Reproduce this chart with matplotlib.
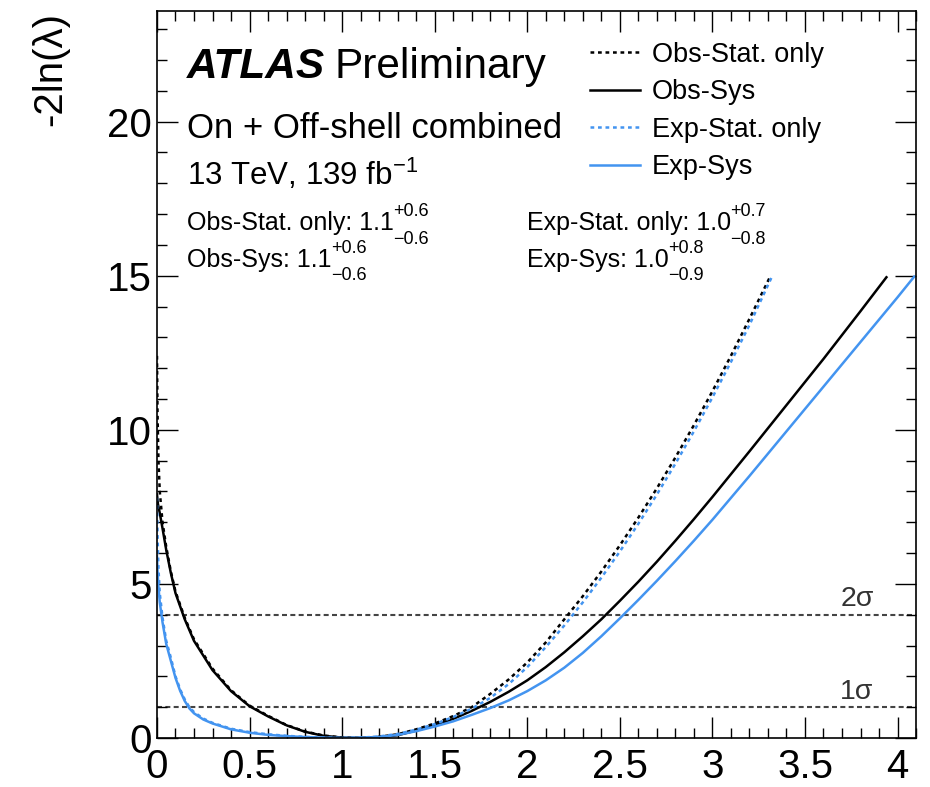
import matplotlib
matplotlib.use("Agg")
import matplotlib.pyplot as plt
from matplotlib.ticker import MultipleLocator, FuncFormatter

# values
obs_stat_x = [0, 0.003, 0.008, 0.015, 0.03, 0.05, 0.075, 0.1, 0.15, 0.2, 0.3, 0.4, 0.5, 0.6, 0.7,
              0.8, 0.9, 1.0, 1.1, 1.2, 1.3, 1.4, 1.5, 1.6, 1.7, 1.8, 1.9, 2.0, 2.1, 2.2, 2.3, 2.4,
              2.5, 2.6, 2.7, 2.8, 2.9, 3.0, 3.1, 3.2, 3.31]
obs_stat_y = [12.4, 10.5, 9.0, 8.0, 7.0, 6.2, 5.4, 4.75, 3.9, 3.2, 2.25, 1.55, 1.05, 0.72, 0.42,
              0.21, 0.08, 0.015, 0.0, 0.04, 0.12, 0.28, 0.47, 0.71, 1.0, 1.43, 1.9, 2.45, 3.1, 3.85,
              4.6, 5.4, 6.25, 7.15, 8.1, 9.1, 10.15, 11.25, 12.4, 13.6, 14.95]

obs_sys_x = [0, 0.005, 0.015, 0.03, 0.05, 0.075, 0.1, 0.15, 0.2, 0.3, 0.4, 0.5, 0.6, 0.7, 0.8,
             0.9, 1.0, 1.1, 1.2, 1.3, 1.4, 1.5, 1.6, 1.7, 1.8, 1.9, 2.0, 2.1, 2.2, 2.3, 2.4, 2.5,
             2.6, 2.7, 2.8, 2.9, 3.0, 3.2, 3.4, 3.6, 3.8, 3.94]
obs_sys_y = [7.9, 7.6, 7.3, 6.8, 6.1, 5.35, 4.7, 3.85, 3.15, 2.2, 1.52, 1.03, 0.7, 0.41, 0.2,
             0.07, 0.012, 0.0, 0.02, 0.09, 0.24, 0.41, 0.62, 0.88, 1.17, 1.5, 1.87, 2.3, 2.78,
             3.3, 3.85, 4.45, 5.07, 5.72, 6.4, 7.1, 7.82, 9.3, 10.8, 12.3, 13.85, 14.95]

exp_stat_x = [0, 0.003, 0.008, 0.015, 0.03, 0.05, 0.075, 0.1, 0.125, 0.15, 0.175, 0.2, 0.25, 0.3,
              0.4, 0.5, 0.6, 0.7, 0.8, 0.9, 1.0, 1.1, 1.2, 1.3, 1.4, 1.5, 1.6, 1.7, 1.8, 1.9, 2.0,
              2.1, 2.2, 2.3, 2.4, 2.5, 2.6, 2.7, 2.8, 2.9, 3.0, 3.1, 3.2, 3.32]
exp_stat_y = [7.8, 6.6, 5.5, 4.7, 3.9, 3.15, 2.6, 2.0, 1.58, 1.25, 1.0, 0.84, 0.63, 0.49,
              0.3, 0.19, 0.12, 0.07, 0.035, 0.012, 0.0, 0.01, 0.05, 0.13, 0.27, 0.45, 0.68, 0.95,
              1.3, 1.75, 2.3, 2.95, 3.65, 4.4, 5.2, 6.05, 6.95, 7.9, 8.9, 9.95, 11.05, 12.2, 13.4,
              14.95]

exp_sys_x = [0, 0.003, 0.008, 0.015, 0.03, 0.05, 0.075, 0.1, 0.125, 0.15, 0.175, 0.2, 0.25, 0.3,
             0.4, 0.5, 0.6, 0.7, 0.8, 0.9, 1.0, 1.1, 1.2, 1.3, 1.4, 1.5, 1.6, 1.7, 1.8, 1.9, 2.0,
             2.1, 2.2, 2.3, 2.4, 2.5, 2.6, 2.7, 2.8, 2.9, 3.0, 3.2, 3.4, 3.6, 3.8, 4.0, 4.09]
exp_sys_y = [5.9, 5.4, 4.9, 4.4, 3.75, 3.05, 2.5, 1.95, 1.53, 1.2, 0.96, 0.8, 0.6, 0.47,
             0.28, 0.17, 0.1, 0.06, 0.03, 0.01, 0.0, 0.01, 0.03, 0.1, 0.22, 0.37, 0.54, 0.75,
             0.97, 1.22, 1.52, 1.87, 2.28, 2.76, 3.3, 3.88, 4.48, 5.1, 5.74, 6.4, 7.08, 8.5,
             9.95, 11.4, 12.85, 14.3, 14.97]

sigma_levels = [1, 4]
sigma_labels = ["1σ", "2σ"]

# best fit values with up / down errors
res_names = ["Obs-Stat. only", "Obs-Sys", "Exp-Stat. only", "Exp-Sys"]
res_best = ["1.1", "1.1", "1.0", "1.0"]
res_up = ["+0.6", "+0.6", "+0.7", "+0.8"]
res_down = ["\u22120.6", "\u22120.6", "\u22120.8", "\u22120.9"]

plt.rcParams['font.family'] = ['Liberation Sans', 'DejaVu Sans']
plt.rcParams['mathtext.fontset'] = 'custom'
plt.rcParams['mathtext.rm'] = 'Liberation Sans'
plt.rcParams['mathtext.it'] = 'Liberation Sans:italic'
plt.rcParams['mathtext.bf'] = 'Liberation Sans:bold'

blue = '#4394F0'

fig = plt.figure(figsize=(9.3, 7.87), dpi=100)
ax = fig.add_axes([0.1688, 0.0623, 0.8162, 0.9241])

dash = (0, (1.5, 1.5))
ax.plot(obs_stat_x, obs_stat_y, color='black', lw=1.8, ls=dash, label='Obs-Stat. only')
ax.plot(obs_sys_x, obs_sys_y, color='black', lw=1.8, label='Obs-Sys')
ax.plot(exp_stat_x, exp_stat_y, color=blue, lw=1.8, ls=dash, label='Exp-Stat. only')
ax.plot(exp_sys_x, exp_sys_y, color=blue, lw=1.8, label='Exp-Sys')

for lev, lab in zip(sigma_levels, sigma_labels):
    ax.axhline(lev, color='#444444', lw=1.5, ls=(0, (2.4, 1.6)), zorder=1)
    ax.text(3.69, lev + 0.27, lab, fontsize=20.5, color='#333333', ha='left', va='baseline')

ax.set_xlim(0, 4.1)
ax.set_ylim(0, 23.6)
ax.xaxis.set_major_locator(MultipleLocator(0.5))
ax.xaxis.set_minor_locator(MultipleLocator(0.1))
ax.yaxis.set_major_locator(MultipleLocator(5))
ax.yaxis.set_minor_locator(MultipleLocator(1))
ax.xaxis.set_major_formatter(FuncFormatter(lambda v, p: '%g' % v))
ax.tick_params(which='both', direction='in', top=True, right=True, width=1.0)
ax.tick_params(which='major', length=15, labelsize=29)
ax.tick_params(which='minor', length=7.5)
ax.tick_params(axis='x', which='major', pad=7)
ax.tick_params(axis='y', which='major', pad=4)
for s in ax.spines.values():
    s.set_linewidth(1.2)

fig.text(0.054, 0.985, "-2ln(λ)", rotation=90, ha='center', va='top', fontsize=29)

t = ax.text(0.0395, 0.9075, 'ATLAS', fontsize=30.5, weight='bold', style='italic',
            transform=ax.transAxes, va='baseline')
fig.canvas.draw()
bb = t.get_window_extent()
xp = ax.transAxes.inverted().transform((bb.x1 + 9, bb.y0))[0]
ax.text(xp, 0.9075, 'Preliminary', fontsize=30.5, transform=ax.transAxes, va='baseline')
ax.text(0.0395, 0.825, 'On + Off-shell combined', fontsize=25, transform=ax.transAxes,
        va='baseline')
ax.text(0.0395, 0.760, '13 TeV, 139 fb$^{-1}$', fontsize=22.5, transform=ax.transAxes,
        va='baseline')

# result lines: two columns, two rows
pos = [(0.0395, 0.698), (0.0395, 0.648), (0.487, 0.698), (0.487, 0.648)]
main_texts = []
for (x0, y0), name, best in zip(pos, res_names, res_best):
    main_texts.append(ax.text(x0, y0, name + ": " + best, fontsize=18,
                              transform=ax.transAxes, va='baseline'))
fig.canvas.draw()
for (x0, y0), mt, up, dn in zip(pos, main_texts, res_up, res_down):
    xe = ax.transAxes.inverted().transform((mt.get_window_extent().x1, 0))[0]
    ax.annotate(up, xy=(xe, y0), xycoords='axes fraction', xytext=(-0.5, 10),
                textcoords='offset points', fontsize=13, va='baseline')
    ax.annotate(dn, xy=(xe, y0), xycoords='axes fraction', xytext=(-0.5, -9.5),
                textcoords='offset points', fontsize=13, va='baseline')

ax.legend(loc='upper left', bbox_to_anchor=(0.5705, 0.957), frameon=False, fontsize=19.5,
          handlelength=1.85, handletextpad=0.43, labelspacing=0.42, borderpad=0,
          borderaxespad=0)

fig.savefig('out.png', dpi=100)
